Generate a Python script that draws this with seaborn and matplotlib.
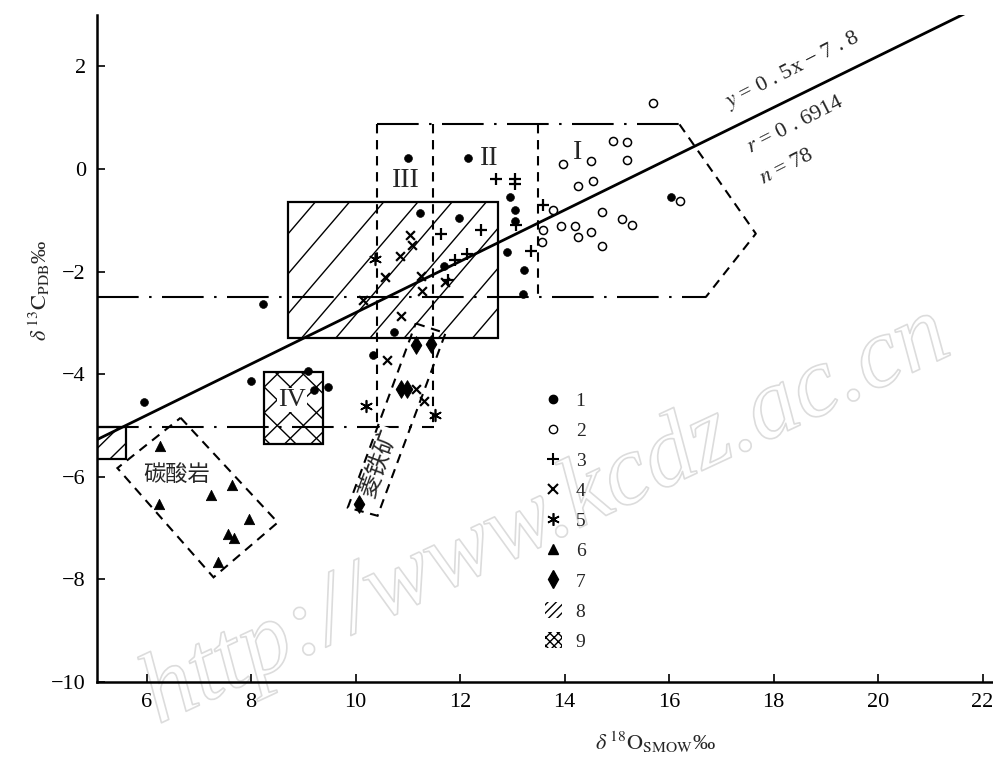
import numpy as np
import pandas as pd
import seaborn as sns
import matplotlib.pyplot as plt
from matplotlib.lines import Line2D
from matplotlib.patches import Patch, Polygon, Rectangle
import matplotlib.patheffects as pe

sns.set_theme(style='white')
plt.rcParams['font.family'] = ['Liberation Serif', 'Noto Sans CJK SC', 'DejaVu Sans']
plt.rcParams['mathtext.fontset'] = 'stix'

# data (d18O SMOW, d13C PDB)
t1_x = [8.22, 5.94, 7.99, 9.08, 9.2, 9.48, 10.33, 10.73, 13.2, 11.0, 12.16, 11.23,
        11.97, 12.95, 13.05, 13.05, 12.9, 13.22, 11.7, 16.03]
t1_y = [-2.64, -4.54, -4.14, -3.94, -4.31, -4.25, -3.63, -3.17, -2.43, 0.21, 0.21, -0.85,
        -0.95, -0.54, -0.8, -1.01, -1.61, -1.96, -1.9, -0.54]
t2_x = [15.7, 14.92, 15.2, 13.97, 14.5, 15.19, 14.25, 14.54, 16.2, 13.77, 14.71, 15.1,
        15.29, 13.58, 13.93, 14.2, 14.5, 14.25, 14.71, 13.56]
t2_y = [1.28, 0.54, 0.53, 0.1, 0.16, 0.17, -0.33, -0.23, -0.62, -0.8, -0.83, -0.97,
        -1.09, -1.18, -1.11, -1.11, -1.22, -1.32, -1.51, -1.42]
t3_x = [12.68, 13.05, 13.05, 13.58, 13.07, 12.4, 11.63, 12.13, 11.9, 11.77, 13.35]
t3_y = [-0.19, -0.19, -0.29, -0.7, -1.1, -1.18, -1.26, -1.65, -1.78, -2.17, -1.59]
t4_x = [11.05, 11.07, 10.84, 10.57, 11.25, 11.72, 11.28, 10.15, 10.86, 10.61, 11.15, 11.3]
t4_y = [-1.28, -1.49, -1.69, -2.1, -2.08, -2.2, -2.37, -2.56, -2.87, -3.73, -4.29, -4.52]
t5_x = [10.19, 11.51, 10.38]
t5_y = [-4.62, -4.8, -1.75]
t6_x = [6.25, 7.64, 7.24, 6.23, 7.95, 7.56, 7.68, 7.36]
t6_y = [-5.4, -6.16, -6.35, -6.54, -6.83, -7.11, -7.2, -7.67]
t7_x = [11.15, 11.44, 10.86, 10.99, 10.06]
t7_y = [-3.44, -3.42, -4.29, -4.29, -6.54]

# fields
hatch_box = (8.7, -3.3, 12.72, -0.65)
box_iv = (8.24, -5.36, 9.37, -3.96)
small_box = (5.05, -5.65, 5.6, -5.03)
field_outline = [(16.2, 0.87), (17.66, -1.26), (16.7, -2.5)]
field_top = 0.87
field_bottom = -2.5
field_verticals = [(10.4, -5.03), (11.48, -5.0), (13.5, -2.5)]
lower_line = -5.03
siderite = [(11.15, -3.01), (11.72, -3.2), (10.42, -6.76), (9.85, -6.6)]
carbonate = [(6.65, -4.85), (8.51, -6.89), (7.28, -7.96), (5.44, -5.83)]
slope, intercept = 0.5, -7.8

xlim = (5.05, 22.2)
ylim = (-10, 3)

fig = plt.figure(figsize=(9.93, 7.58), dpi=100)
ax = fig.add_axes([0.0977, 0.1003, 0.9023, 0.8797])
ax.set_xlim(*xlim)
ax.set_ylim(*ylim)

dash = (0, (4.5, 3.2))
dashdot = (0, (20, 5, 1.2, 5))
lw = 1.5


def hatch(patch, spacing, angles, lwh=1.0):
    # draw sparse hatch lines clipped to a patch
    for ang in angles:
        m = np.tan(np.radians(ang))
        for c in np.arange(-60, 60, spacing):
            xs = np.array([0, 30])
            line, = ax.plot(xs, m * xs + c, color='black', lw=lwh, zorder=1.5)
            line.set_clip_path(patch)


r = Rectangle((hatch_box[0], hatch_box[1]), hatch_box[2] - hatch_box[0],
              hatch_box[3] - hatch_box[1], fill=False, lw=1.6, ec='black', zorder=2)
ax.add_patch(r)
hatch(r, 0.78, [50])

r4 = Rectangle((box_iv[0], box_iv[1]), box_iv[2] - box_iv[0], box_iv[3] - box_iv[1],
               fill=False, lw=1.6, ec='black', zorder=2)
ax.add_patch(r4)
hatch(r4, 0.5, [45, -45])

rs = Rectangle((small_box[0], small_box[1]), small_box[2] - small_box[0],
               small_box[3] - small_box[1], fill=False, lw=1.6, ec='black', zorder=2)
ax.add_patch(rs)
hatch(rs, 0.45, [45])

# field boundaries
ax.plot([xlim[0], field_outline[2][0]], [field_bottom, field_bottom], color='black', lw=lw, ls=dashdot)
ax.plot([field_verticals[0][0], field_outline[0][0]], [field_top, field_top], color='black', lw=lw, ls=dashdot)
ax.plot([p[0] for p in field_outline], [p[1] for p in field_outline], color='black', lw=lw, ls=dash)
for vx, vb in field_verticals:
    ax.plot([vx, vx], [field_top, vb], color='black', lw=lw, ls=dash)
ax.plot([xlim[0], 11.5], [lower_line, lower_line], color='black', lw=lw, ls=dashdot)

for poly in (siderite, carbonate):
    ax.add_patch(Polygon(poly, closed=True, fill=False, ec='black', lw=lw, ls=dash))

# regression line
fx = np.array(xlim)
sns.lineplot(x=fx, y=slope * fx + intercept, color='black', lw=2.0, ax=ax)

# scatter groups
sns.scatterplot(x=t1_x, y=t1_y, marker='o', s=32, color='black', edgecolor='black', ax=ax, zorder=4)
sns.scatterplot(x=t2_x, y=t2_y, marker='o', s=34, facecolor='white', edgecolor='black', linewidth=1.1, ax=ax, zorder=4)
sns.scatterplot(x=t3_x, y=t3_y, marker='+', s=70, color='black', linewidth=1.6, ax=ax, zorder=4)
sns.scatterplot(x=t4_x, y=t4_y, marker='x', s=40, color='black', linewidth=1.6, ax=ax, zorder=4)
sns.scatterplot(x=t5_x, y=t5_y, marker=(6, 2, 0), s=70, color='black', linewidth=1.2, ax=ax, zorder=4)
sns.scatterplot(x=t6_x, y=t6_y, marker='^', s=55, color='black', edgecolor='black', ax=ax, zorder=4)
sns.scatterplot(x=t7_x, y=t7_y, marker='d', s=80, color='black', edgecolor='black', ax=ax, zorder=4)

# labels on the chart
ax.text(14.25, 0.33, 'I', fontsize=20, ha='center', va='center')
ax.text(12.55, 0.21, 'II', fontsize=20, ha='center', va='center')
ax.text(10.96, -0.23, 'III', fontsize=20, ha='center', va='center')
ax.text(8.78, -4.5, 'IV', fontsize=19, ha='center', va='center',
        bbox=dict(fc='white', ec='none', pad=0.5))
ax.text(6.58, -5.98, '碳酸岩', fontsize=16, ha='center', va='center')
ax.text(10.45, -5.72, '菱铁矿', fontsize=17, ha='center', va='center', rotation=70,
        bbox=dict(fc='white', ec='none', pad=0.3))
ax.text(17.15, 1.2, r'$y$ = 0 . 5x − 7 . 8', fontsize=16, rotation=27, rotation_mode='anchor')
ax.text(17.55, 0.3, r'$r$ = 0 . 6914', fontsize=16, rotation=27, rotation_mode='anchor')
ax.text(17.8, -0.3, r'$n$ = 78', fontsize=16, rotation=27, rotation_mode='anchor')

# legend
handles = [
    Line2D([], [], ls='none', marker='o', ms=6, color='black'),
    Line2D([], [], ls='none', marker='o', ms=6, mfc='white', mec='black'),
    Line2D([], [], ls='none', marker='+', ms=9, color='black', mew=1.5),
    Line2D([], [], ls='none', marker='x', ms=7, color='black', mew=1.5),
    Line2D([], [], ls='none', marker=(6, 2, 0), ms=9, color='black', mew=1.2),
    Line2D([], [], ls='none', marker='^', ms=7, color='black'),
    Line2D([], [], ls='none', marker='d', ms=9, color='black'),
    Patch(fc='white', ec='black', lw=0, hatch='////'),
    Patch(fc='white', ec='black', lw=0, hatch='xxxx'),
]
labels = [str(i) for i in range(1, 10)]
leg = ax.legend(handles, labels, loc='upper left', bbox_to_anchor=(0.48, 0.462),
                frameon=False, fontsize=14, handlelength=0.9, handleheight=0.9,
                handletextpad=0.7, labelspacing=0.58)

# axes styling
sns.despine(ax=ax)
for s in ('left', 'bottom'):
    ax.spines[s].set_linewidth(1.8)
    ax.spines[s].set_color('black')
ax.set_xticks(np.arange(6, 23, 2))
ax.set_yticks(np.arange(-10, 3, 2))
ax.tick_params(direction='in', length=6, width=1.2, labelsize=16, pad=8, colors='black',
               left=True, bottom=True)
ax.set_xlabel(r'$\delta^{\,18}\mathrm{O}_{\mathrm{SMOW}}$‰', fontsize=16)
ax.set_ylabel(r'$\delta^{\,13}\mathrm{C}_{\mathrm{PDB}}$‰', fontsize=16)
ax.xaxis.set_label_coords(0.623, -0.072)
ax.yaxis.set_label_coords(-0.05, 0.588)

# watermark (outlined, drawn under the data)
ax.text(0.55, 0.318, 'http://www.kcdz.ac.cn', fontsize=72, style='italic', rotation=25,
        ha='center', va='center', color=(1, 1, 1, 0), zorder=0.5, clip_on=False,
        transform=fig.transFigure,
        path_effects=[pe.withStroke(linewidth=1.2, foreground='#dcdcdc')])

fig.savefig('out.png', dpi=100)
